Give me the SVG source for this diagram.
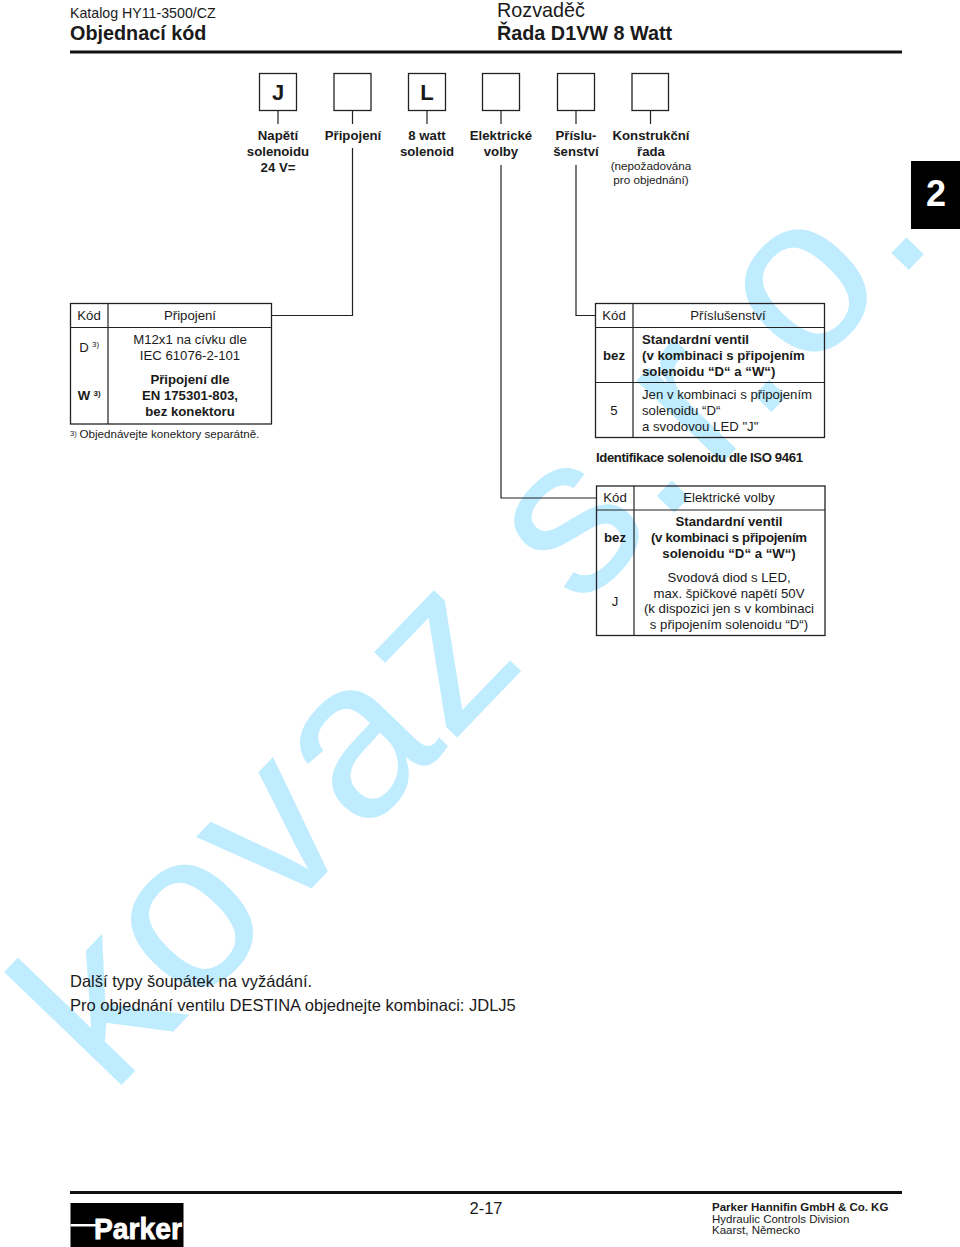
<svg xmlns="http://www.w3.org/2000/svg" width="960" height="1247" viewBox="0 0 960 1247">
<style>
text{font-family:"Liberation Sans",Arial,sans-serif;fill:#1a1a1a;font-size:13.2px}
.b{font-weight:bold}
.m{text-anchor:middle}
.l{fill:none;stroke:#222;stroke-width:1.2}
.box{fill:none;stroke:#222;stroke-width:1.3}
.wm{font-size:225px;letter-spacing:3.5px;fill:#bfecff}
.big{font-size:19.8px}
.foot{font-size:11.5px}
.note{font-size:16.5px}
.sm{font-size:11.7px}
</style>
<rect width="960" height="1247" fill="#fff"/>
<text id="watermark" class="wm" transform="translate(111 1096) rotate(-46)">kovaz <tspan dx="3">s.</tspan><tspan dx="8">r.</tspan><tspan dx="3">o.</tspan></text>
<g id="header">
<text x="70" y="18" style="font-size:14.2px">Katalog HY11-3500/CZ</text>
<text x="70" y="40" class="b big">Objednací kód</text>
<text x="497" y="17" class="big">Rozvaděč</text>
<text x="497" y="40" class="b big">Řada D1VW 8 Watt</text>
<rect x="70" y="50.500" width="832" height="3" fill="#111"/>
</g>
<g id="tab"><rect x="911" y="161" width="49" height="68" fill="#000"/><text x="936" y="206" class="b m" style="font-size:36px;fill:#fff">2</text></g>
<g id="connectors">
<path class="l" d="M278 110V124M352.500 110V124M427 110V124M501 110V124M576 110V124M650.500 110V124"/>
<path class="l" d="M352.500 148V315.500H272"/>
<path class="l" d="M501 165V498H596"/>
<path class="l" d="M576 165V315.500H595"/>
</g>
<g id="code-J"><rect class="box" x="259.500" y="73.500" width="37" height="37"/><text x="278" y="100" class="b m" style="font-size:22px">J</text></g>
<g id="code-2"><rect class="box" x="334" y="73.500" width="37" height="37"/></g>
<g id="code-L"><rect class="box" x="408.500" y="73.500" width="37" height="37"/><text x="427" y="100" class="b m" style="font-size:22px">L</text></g>
<g id="code-4"><rect class="box" x="482.500" y="73.500" width="37" height="37"/></g>
<g id="code-5"><rect class="box" x="557.500" y="73.500" width="37" height="37"/></g>
<g id="code-6"><rect class="box" x="632" y="73.500" width="36.500" height="37"/></g>
<g id="labels">
<text x="278" y="140" class="b m">Napětí</text><text x="278" y="156" class="b m">solenoidu</text><text x="278" y="172" class="b m">24 V=</text>
<text x="353" y="140" class="b m">Připojení</text>
<text x="427" y="140" class="b m">8 watt</text><text x="427" y="156" class="b m">solenoid</text>
<text x="501" y="140" class="b m">Elektrické</text><text x="501" y="156" class="b m">volby</text>
<text x="576" y="140" class="b m">Příslu-</text><text x="576" y="156" class="b m">šenství</text>
<text x="651" y="140" class="b m">Konstrukční</text><text x="651" y="156" class="b m">řada</text>
<text x="651" y="170" class="m sm">(nepožadována</text><text x="651" y="184" class="m sm">pro objednání)</text>
</g>
<g id="table-pripojeni">
<rect class="box" x="70.500" y="303.500" width="201" height="120.500"/>
<path class="l" d="M108 303.500V424M70.500 327.500H271.500"/>
<text x="89" y="320" class="m">Kód</text><text x="190" y="320" class="m">Připojení</text>
<text x="84" y="352" class="m">D</text><text x="95.500" y="347" class="m" style="font-size:8px">3)</text>
<text x="84" y="400" class="b m">W</text><text x="97" y="396" class="b m" style="font-size:8px">3)</text>
<text x="190" y="344" class="m">M12x1 na cívku dle</text><text x="190" y="360" class="m">IEC 61076-2-101</text>
<text x="190" y="384" class="b m">Připojení dle</text><text x="190" y="400" class="b m">EN 175301-803,</text><text x="190" y="416" class="b m">bez konektoru</text>
<text x="70" y="436" style="font-size:7.500px">3)</text><text x="79.500" y="438" style="font-size:11.6px">Objednávejte konektory separátně.</text>
</g>
<g id="table-prislusenstvi">
<rect class="box" x="595.500" y="303.500" width="229" height="134"/>
<path class="l" d="M633 303.500V437.500M595.500 327.500H824.500M595.500 382.500H824.500"/>
<text x="614" y="320" class="m">Kód</text><text x="728" y="320" class="m">Příslušenství</text>
<text x="614" y="360" class="b m">bez</text>
<text x="642" y="344" class="b">Standardní ventil</text><text x="642" y="360" class="b">(v kombinaci s připojením</text><text x="642" y="376" class="b">solenoidu “D“ a “W“)</text>
<text x="614" y="415" class="m">5</text>
<text x="642" y="399">Jen v kombinaci s připojením</text><text x="642" y="415">solenoidu “D“</text><text x="642" y="431">a svodovou LED "J"</text>
</g>
<text id="iso-title" x="596" y="462" class="b" textLength="207" lengthAdjust="spacing">Identifikace solenoidu dle ISO 9461</text>
<g id="table-volby">
<rect class="box" x="596.500" y="486" width="228.500" height="149.500"/>
<path class="l" d="M634 486V635.500M596.500 510H825"/>
<text x="615" y="502" class="m">Kód</text><text x="729" y="502" class="m">Elektrické volby</text>
<text x="615" y="542" class="b m">bez</text>
<text x="729" y="526" class="b m">Standardní ventil</text><text x="651" y="542" class="b" textLength="156" lengthAdjust="spacing">(v kombinaci s připojením</text><text x="729" y="558" class="b m">solenoidu “D“ a “W“)</text>
<text x="615" y="606" class="m">J</text>
<text x="729" y="582" class="m">Svodová diod s LED,</text><text x="729" y="598" class="m">max. špičkové napětí 50V</text><text x="729" y="613" class="m">(k dispozici jen s v kombinaci</text><text x="729" y="629" class="m">s připojením solenoidu “D“)</text>
</g>
<g id="notes">
<text x="70" y="987" class="note">Další typy šoupátek na vyžádání.</text>
<text x="70" y="1011" class="note">Pro objednání ventilu DESTINA objednejte kombinaci: JDLJ5</text>
</g>
<g id="footer">
<rect x="70" y="1191" width="832" height="3" fill="#111"/>
<text x="486" y="1214" class="m" style="font-size:16.5px">2-17</text>
<text x="712" y="1211" class="b foot">Parker Hannifin GmbH &amp; Co. KG</text>
<text x="712" y="1223" class="foot">Hydraulic Controls Division</text>
<text x="712" y="1234" class="foot">Kaarst, Německo</text>
</g>
<g id="logo">
<rect x="70.500" y="1203" width="113" height="44" fill="#000"/>
<rect x="70.500" y="1224" width="30" height="2.500" fill="#fff"/>
<text x="94" y="1239" class="b" style="font-size:30px;fill:#fff;stroke:#fff;stroke-width:.8px" textLength="88" lengthAdjust="spacingAndGlyphs">Parker</text>
</g>
</svg>
